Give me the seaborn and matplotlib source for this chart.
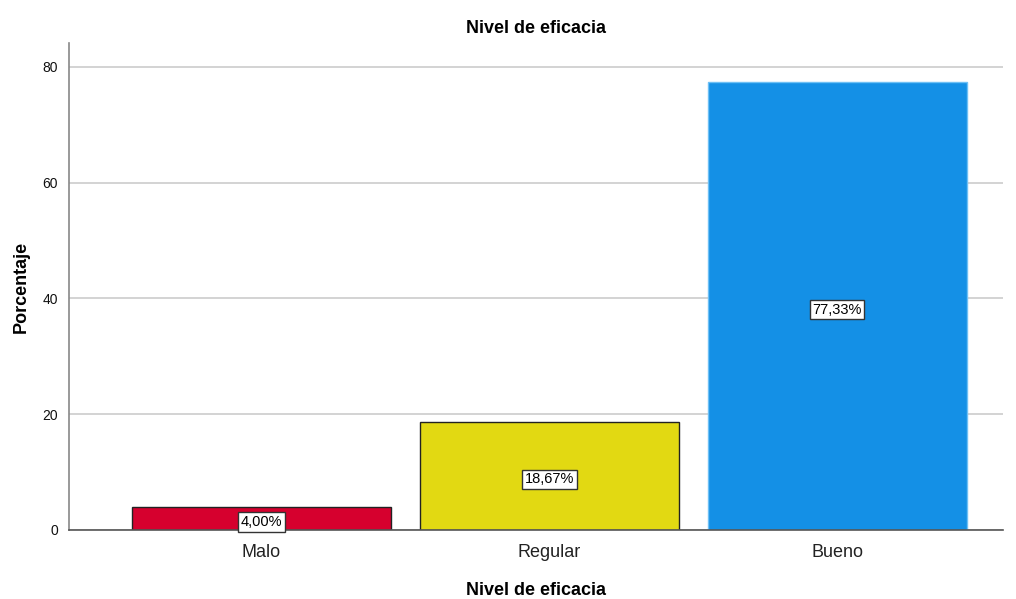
import matplotlib
matplotlib.use("Agg")
import matplotlib.pyplot as plt
import seaborn as sns
import pandas as pd

categories = ["Malo", "Regular", "Bueno"]
percentages = [4.00, 18.67, 77.33]
labels = ["4,00%", "18,67%", "77,33%"]
colors = ["#D6002E", "#E2D912", "#1490E6"]
edges = ["#222222", "#222222", "#6EC0F5"]

sns.set_theme(style="white")
plt.rcParams['font.family'] = ['Liberation Sans', 'DejaVu Sans']

df = pd.DataFrame({"cat": categories, "pct": percentages})
fig = plt.figure(figsize=(10.16, 5.99), dpi=100)
ax = fig.add_axes([0.0679, 0.1152, 0.919, 0.8128])

sns.barplot(data=df, x="cat", y="pct", hue="cat", palette=colors, order=categories,
            hue_order=categories, width=0.9, legend=False, ax=ax, saturation=1)

for patch, ec in zip(ax.patches, edges):
    patch.set_edgecolor(ec)
    patch.set_linewidth(1.0)

for patch, lab in zip(ax.patches, labels):
    x = patch.get_x() + patch.get_width() / 2
    y = patch.get_height() / 2
    ax.annotate(lab, (x, y), xytext=(0, -2.5), textcoords="offset points",
                ha="center", va="center", fontsize=10.5, color="black",
                bbox=dict(boxstyle="square,pad=0.18", fc="white", ec="#333333", lw=1))

ax.set_xlim(-0.668, 2.575)
ax.set_ylim(0, 84.1)
ax.set_yticks([0, 20, 40, 60, 80])
ax.yaxis.grid(True, color="#CCCCCC", linewidth=1.2)
ax.set_axisbelow(True)
for s in ["top", "right"]:
    ax.spines[s].set_visible(False)
ax.spines["left"].set_color("#888888")
ax.spines["left"].set_linewidth(1.2)
ax.spines["bottom"].set_color("#555555")
ax.spines["bottom"].set_linewidth(1.2)
ax.tick_params(axis="y", labelsize=10, colors="#111111", length=0, pad=8)
ax.tick_params(axis="x", labelsize=13, colors="#222222", length=0, pad=10)

ax.set_title("Nivel de eficacia", fontsize=13, fontweight="bold", pad=7, color="black")
ax.set_xlabel("Nivel de eficacia", fontsize=13, fontweight="bold", labelpad=15, color="black")
ax.set_ylabel("Porcentaje", fontsize=13, fontweight="bold", labelpad=9, color="black")

fig.savefig("out.png", dpi=100)
